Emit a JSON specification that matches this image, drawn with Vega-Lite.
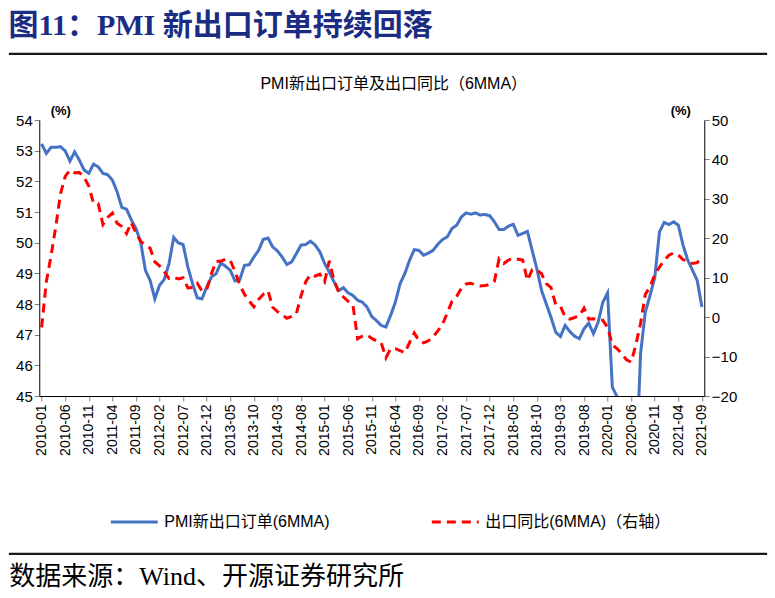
{
  "$schema": "https://vega.github.io/schema/vega-lite/v6.json",
  "padding": {"left": 8, "right": 10, "top": 10, "bottom": 0},
  "title": {"text": "图11：PMI 新出口订单持续回落", "anchor": "start", "fontSize": 30, "font": "Liberation Serif, Noto Sans CJK SC", "fontWeight": "bold", "color": "#1c2c82", "offset": 11},
  "datasets": {
    "d": [
      {"month": "2010-01", "pmi": 53.22, "exp": -2.6},
      {"month": "2010-02", "pmi": 52.91, "exp": 9.0},
      {"month": "2010-03", "pmi": 53.11, "exp": 15.6},
      {"month": "2010-04", "pmi": 53.11, "exp": 23.0},
      {"month": "2010-05", "pmi": 53.13, "exp": 31.3},
      {"month": "2010-06", "pmi": 52.99, "exp": 35.7},
      {"month": "2010-07", "pmi": 52.66, "exp": 37.3},
      {"month": "2010-08", "pmi": 52.96, "exp": 36.6},
      {"month": "2010-09", "pmi": 52.69, "exp": 36.7},
      {"month": "2010-10", "pmi": 52.37, "exp": 35.5},
      {"month": "2010-11", "pmi": 52.26, "exp": 33.2},
      {"month": "2010-12", "pmi": 52.56, "exp": 28.9},
      {"month": "2011-01", "pmi": 52.47, "exp": 28.8},
      {"month": "2011-02", "pmi": 52.26, "exp": 23.5},
      {"month": "2011-03", "pmi": 52.22, "exp": 25.3},
      {"month": "2011-04", "pmi": 52.04, "exp": 26.4},
      {"month": "2011-05", "pmi": 51.66, "exp": 23.8},
      {"month": "2011-06", "pmi": 51.15, "exp": 23.0},
      {"month": "2011-07", "pmi": 51.09, "exp": 21.2},
      {"month": "2011-08", "pmi": 50.75, "exp": 24.0},
      {"month": "2011-09", "pmi": 50.46, "exp": 21.3},
      {"month": "2011-10", "pmi": 50.02, "exp": 19.2},
      {"month": "2011-11", "pmi": 49.10, "exp": 18.3},
      {"month": "2011-12", "pmi": 48.77, "exp": 17.5},
      {"month": "2012-01", "pmi": 48.17, "exp": 14.0},
      {"month": "2012-02", "pmi": 48.61, "exp": 13.0},
      {"month": "2012-03", "pmi": 48.80, "exp": 11.6},
      {"month": "2012-04", "pmi": 49.31, "exp": 9.8},
      {"month": "2012-05", "pmi": 50.17, "exp": 10.1},
      {"month": "2012-06", "pmi": 49.99, "exp": 9.7},
      {"month": "2012-07", "pmi": 49.94, "exp": 10.0},
      {"month": "2012-08", "pmi": 49.21, "exp": 7.4},
      {"month": "2012-09", "pmi": 48.66, "exp": 7.5},
      {"month": "2012-10", "pmi": 48.20, "exp": 8.6},
      {"month": "2012-11", "pmi": 48.17, "exp": 6.6},
      {"month": "2012-12", "pmi": 48.55, "exp": 7.0},
      {"month": "2013-01", "pmi": 48.88, "exp": 11.0},
      {"month": "2013-02", "pmi": 48.99, "exp": 14.2},
      {"month": "2013-03", "pmi": 49.34, "exp": 14.2},
      {"month": "2013-04", "pmi": 49.23, "exp": 14.7},
      {"month": "2013-05", "pmi": 49.10, "exp": 14.4},
      {"month": "2013-06", "pmi": 48.75, "exp": 11.6},
      {"month": "2013-07", "pmi": 48.79, "exp": 8.2},
      {"month": "2013-08", "pmi": 49.26, "exp": 5.8},
      {"month": "2013-09", "pmi": 49.28, "exp": 4.1},
      {"month": "2013-10", "pmi": 49.53, "exp": 2.6},
      {"month": "2013-11", "pmi": 49.75, "exp": 4.5},
      {"month": "2013-12", "pmi": 50.11, "exp": 5.8},
      {"month": "2014-01", "pmi": 50.15, "exp": 6.7},
      {"month": "2014-02", "pmi": 49.86, "exp": 2.5},
      {"month": "2014-03", "pmi": 49.73, "exp": 1.4},
      {"month": "2014-04", "pmi": 49.53, "exp": 0.6},
      {"month": "2014-05", "pmi": 49.29, "exp": -0.3},
      {"month": "2014-06", "pmi": 49.37, "exp": 0.2},
      {"month": "2014-07", "pmi": 49.64, "exp": 0.8},
      {"month": "2014-08", "pmi": 49.92, "exp": 5.4},
      {"month": "2014-09", "pmi": 49.94, "exp": 9.0},
      {"month": "2014-10", "pmi": 50.05, "exp": 10.8},
      {"month": "2014-11", "pmi": 49.92, "exp": 10.4},
      {"month": "2014-12", "pmi": 49.70, "exp": 10.9},
      {"month": "2015-01", "pmi": 49.32, "exp": 9.0},
      {"month": "2015-02", "pmi": 49.04, "exp": 14.3},
      {"month": "2015-03", "pmi": 48.72, "exp": 9.3},
      {"month": "2015-04", "pmi": 48.44, "exp": 6.3},
      {"month": "2015-05", "pmi": 48.53, "exp": 5.1},
      {"month": "2015-06", "pmi": 48.36, "exp": 4.0},
      {"month": "2015-07", "pmi": 48.28, "exp": 3.1},
      {"month": "2015-08", "pmi": 48.12, "exp": -5.5},
      {"month": "2015-09", "pmi": 48.06, "exp": -4.8},
      {"month": "2015-10", "pmi": 47.90, "exp": -4.5},
      {"month": "2015-11", "pmi": 47.59, "exp": -5.4},
      {"month": "2015-12", "pmi": 47.46, "exp": -6.0},
      {"month": "2016-01", "pmi": 47.30, "exp": -6.5},
      {"month": "2016-02", "pmi": 47.25, "exp": -10.3},
      {"month": "2016-03", "pmi": 47.63, "exp": -8.0},
      {"month": "2016-04", "pmi": 48.06, "exp": -8.0},
      {"month": "2016-05", "pmi": 48.66, "exp": -8.5},
      {"month": "2016-06", "pmi": 48.99, "exp": -9.0},
      {"month": "2016-07", "pmi": 49.42, "exp": -6.5},
      {"month": "2016-08", "pmi": 49.77, "exp": -4.0},
      {"month": "2016-09", "pmi": 49.75, "exp": -6.0},
      {"month": "2016-10", "pmi": 49.59, "exp": -6.5},
      {"month": "2016-11", "pmi": 49.66, "exp": -6.0},
      {"month": "2016-12", "pmi": 49.75, "exp": -5.0},
      {"month": "2017-01", "pmi": 49.95, "exp": -3.5},
      {"month": "2017-02", "pmi": 50.10, "exp": -1.8},
      {"month": "2017-03", "pmi": 50.19, "exp": 1.0},
      {"month": "2017-04", "pmi": 50.46, "exp": 4.0},
      {"month": "2017-05", "pmi": 50.57, "exp": 5.3},
      {"month": "2017-06", "pmi": 50.84, "exp": 7.3},
      {"month": "2017-07", "pmi": 50.97, "exp": 8.4},
      {"month": "2017-08", "pmi": 50.93, "exp": 8.6},
      {"month": "2017-09", "pmi": 50.97, "exp": 8.1},
      {"month": "2017-10", "pmi": 50.90, "exp": 7.9},
      {"month": "2017-11", "pmi": 50.92, "exp": 8.0},
      {"month": "2017-12", "pmi": 50.88, "exp": 8.3},
      {"month": "2018-01", "pmi": 50.68, "exp": 9.1},
      {"month": "2018-02", "pmi": 50.43, "exp": 14.8},
      {"month": "2018-03", "pmi": 50.43, "exp": 13.6},
      {"month": "2018-04", "pmi": 50.54, "exp": 14.5},
      {"month": "2018-05", "pmi": 50.60, "exp": 14.9},
      {"month": "2018-06", "pmi": 50.24, "exp": 14.7},
      {"month": "2018-07", "pmi": 50.30, "exp": 14.5},
      {"month": "2018-08", "pmi": 50.37, "exp": 9.3},
      {"month": "2018-09", "pmi": 49.75, "exp": 12.0},
      {"month": "2018-10", "pmi": 49.15, "exp": 12.0},
      {"month": "2018-11", "pmi": 48.44, "exp": 11.0},
      {"month": "2018-12", "pmi": 48.00, "exp": 8.5},
      {"month": "2019-01", "pmi": 47.57, "exp": 7.5},
      {"month": "2019-02", "pmi": 47.08, "exp": 3.2},
      {"month": "2019-03", "pmi": 46.94, "exp": 2.8},
      {"month": "2019-04", "pmi": 47.30, "exp": 0.0},
      {"month": "2019-05", "pmi": 47.10, "exp": -0.5},
      {"month": "2019-06", "pmi": 46.95, "exp": -0.1},
      {"month": "2019-07", "pmi": 46.87, "exp": 0.3},
      {"month": "2019-08", "pmi": 47.19, "exp": 2.3},
      {"month": "2019-09", "pmi": 47.38, "exp": -0.5},
      {"month": "2019-10", "pmi": 47.03, "exp": -0.4},
      {"month": "2019-11", "pmi": 47.41, "exp": -0.6},
      {"month": "2019-12", "pmi": 48.06, "exp": -0.8},
      {"month": "2020-01", "pmi": 48.36, "exp": -2.6},
      {"month": "2020-02", "pmi": 45.29, "exp": -7.0},
      {"month": "2020-03", "pmi": 44.98, "exp": -8.0},
      {"month": "2020-04", "pmi": 42.70, "exp": -9.3},
      {"month": "2020-05", "pmi": 40.50, "exp": -10.8},
      {"month": "2020-06", "pmi": 39.20, "exp": -11.4},
      {"month": "2020-07", "pmi": 42.50, "exp": -7.0},
      {"month": "2020-08", "pmi": 46.40, "exp": -1.5},
      {"month": "2020-09", "pmi": 47.74, "exp": 5.8},
      {"month": "2020-10", "pmi": 48.28, "exp": 7.7},
      {"month": "2020-11", "pmi": 48.86, "exp": 10.8},
      {"month": "2020-12", "pmi": 50.35, "exp": 12.7},
      {"month": "2021-01", "pmi": 50.66, "exp": 14.4},
      {"month": "2021-02", "pmi": 50.59, "exp": 15.7},
      {"month": "2021-03", "pmi": 50.68, "exp": 16.3},
      {"month": "2021-04", "pmi": 50.57, "exp": 15.7},
      {"month": "2021-05", "pmi": 49.92, "exp": 14.6},
      {"month": "2021-06", "pmi": 49.43, "exp": 14.2},
      {"month": "2021-07", "pmi": 49.10, "exp": 13.6},
      {"month": "2021-08", "pmi": 48.77, "exp": 13.8},
      {"month": "2021-09", "pmi": 47.90, "exp": 15.3}
    ]
  },
  "vconcat": [
    {
      "data": {"name": "d"},
      "width": 757,
      "height": 1,
      "view": {"stroke": "#1a1a1a", "strokeWidth": 1.2},
      "mark": {"type": "text", "text": " ", "fontSize": 1},
      "encoding": {}
    },
    {
      "data": {"name": "d"},
      "width": 665,
      "height": 276,
      "title": {"text": "PMI新出口订单及出口同比（6MMA）", "fontSize": 16, "fontWeight": "normal", "anchor": "middle", "dx": 22, "offset": 12, "color": "#000000"},
      "encoding": {
        "x": {
          "field": "month",
          "type": "ordinal",
          "scale": {"type": "point", "padding": 0.5},
          "axis": {
            "values": ["2010-01", "2010-06", "2010-11", "2011-04", "2011-09", "2012-02", "2012-07", "2012-12", "2013-05", "2013-10", "2014-03", "2014-08", "2015-01", "2015-06", "2015-11", "2016-04", "2016-09", "2017-02", "2017-07", "2017-12", "2018-05", "2018-10", "2019-03", "2019-08", "2020-01", "2020-06", "2020-11", "2021-04", "2021-09"],
            "labelAngle": -90,
            "labelFontSize": 14,
            "labelPadding": 3,
            "tickSize": 5,
            "title": null
          }
        }
      },
      "layer": [
        {
          "mark": {"type": "line", "strokeWidth": 3, "clip": true},
          "encoding": {
            "y": {
              "field": "pmi",
              "type": "quantitative",
              "scale": {"domain": [45, 54], "nice": false, "zero": false},
              "axis": {"orient": "left", "values": [45, 46, 47, 48, 49, 50, 51, 52, 53, 54], "labelFontSize": 15, "title": "(%)", "titleAngle": 0, "titleX": 21, "titleY": -3, "titleAlign": "center", "titleBaseline": "bottom", "titleFontSize": 13, "titleFontWeight": "bold"}
            },
            "color": {
              "datum": "PMI新出口订单(6MMA)",
              "title": null,
              "scale": {"domain": ["PMI新出口订单(6MMA)", "出口同比(6MMA)（右轴）"], "range": ["#4472C4", "#FF0000"]},
              "legend": {"orient": "none", "legendX": 70, "legendY": 377, "direction": "horizontal", "symbolType": "stroke", "symbolSize": 2200, "symbolStrokeWidth": 3, "labelFontSize": 16, "columnPadding": 95, "labelLimit": 300, "labelOffset": 5}
            },
            "strokeDash": {
              "datum": "PMI新出口订单(6MMA)",
              "title": null,
              "scale": {"domain": ["PMI新出口订单(6MMA)", "出口同比(6MMA)（右轴）"], "range": [[1, 0], [9, 6]]},
              "legend": {"orient": "none", "legendX": 70, "legendY": 377, "direction": "horizontal", "symbolType": "stroke", "symbolSize": 2200, "symbolStrokeWidth": 3, "labelFontSize": 16, "columnPadding": 95, "labelLimit": 300, "labelOffset": 5}
            }
          }
        },
        {
          "mark": {"type": "line", "strokeWidth": 3},
          "encoding": {
            "y": {
              "field": "exp",
              "type": "quantitative",
              "scale": {"domain": [-20, 50], "nice": false, "zero": false},
              "axis": {"orient": "right", "values": [-20, -10, 0, 10, 20, 30, 40, 50], "labelFontSize": 15, "title": "(%)", "titleAngle": 0, "titleX": -24, "titleY": -3, "titleAlign": "center", "titleBaseline": "bottom", "titleFontSize": 13, "titleFontWeight": "bold"}
            },
            "color": {"datum": "出口同比(6MMA)（右轴）", "title": null},
            "strokeDash": {"datum": "出口同比(6MMA)（右轴）", "title": null}
          }
        }
      ],
      "resolve": {"scale": {"y": "independent"}}
    },
    {
      "data": {"name": "d"},
      "width": 757,
      "height": 1,
      "view": {"stroke": "#1a1a1a", "strokeWidth": 1.2},
      "title": {"text": "数据来源：Wind、开源证券研究所", "orient": "bottom", "anchor": "start", "fontSize": 26, "font": "Liberation Serif, Noto Sans CJK SC", "fontWeight": "normal", "color": "#000000", "offset": 10},
      "mark": {"type": "text", "text": " ", "fontSize": 1},
      "encoding": {}
    }
  ],
  "resolve": {"scale": {"color": "independent", "strokeDash": "independent"}, "legend": {"color": "independent", "strokeDash": "independent"}},
  "center": true,
  "spacing": 21,
  "config": {
    "font": "Liberation Sans, Noto Sans CJK SC",
    "view": {"stroke": null},
    "axis": {"grid": false, "labelColor": "#000000", "titleColor": "#000000", "domainColor": "#000000", "tickColor": "#7f7f7f", "labelFont": "Liberation Sans, Noto Sans CJK SC", "titleFont": "Liberation Sans, Noto Sans CJK SC"},
    "legend": {"labelColor": "#000000", "labelFont": "Liberation Sans, Noto Sans CJK SC"}
  }
}
